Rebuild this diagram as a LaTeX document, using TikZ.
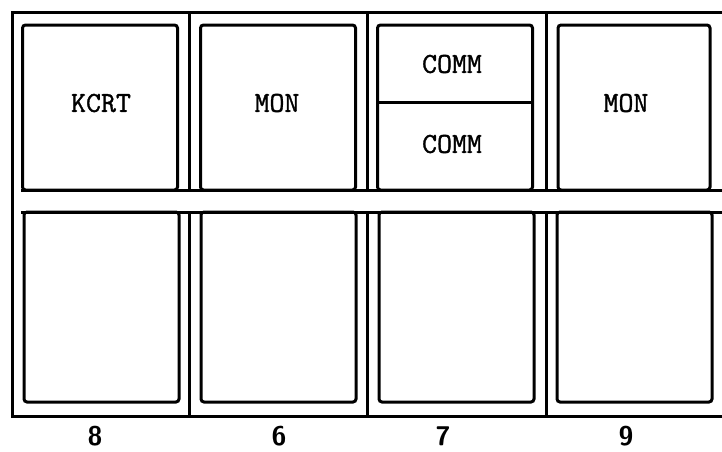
\documentclass[tikz,border=0pt]{standalone}
\usepackage{fontspec}
\newfontfamily\typewriter[FakeBold=1.2]{Latin Modern Mono}
\usepackage{tikz}
\usetikzlibrary{positioning, calc}

\begin{document}
\begin{tikzpicture}[x=1pt, y=-1pt, line width=3pt,
  frame/.style={line cap=rect},
  panel/.style={draw, rounded corners=3pt, minimum width=155pt, inner sep=0pt},
  toppanel/.style={panel, minimum height=165pt},
  lowpanel/.style={panel, minimum height=190pt},
  tag/.style={font=\fontsize{29}{30}\selectfont\typewriter, inner sep=0pt},
  num/.style={font=\fontsize{27}{28}\selectfont\sffamily\bfseries, inner sep=0pt}]
  \useasboundingbox (0,0) rectangle (722,451);

  % outer cabinet frame
  \draw[frame] (722,12) -- (12,12) -- (12,416) -- (722,416);
  \draw[frame] (22,190) -- (722,190);
  \draw[frame] (22,212) -- (722,212);
  \draw[frame] (189,12) -- (189,190) (189,212) -- (189,416);
  \draw[frame] (367,12) -- (367,190) (367,212) -- (367,416);
  \draw[frame] (546,12) -- (546,190) (546,212) -- (546,416);

  % upper row of panels
  \node[toppanel] (p8) at (100,107.5) {};
  \node[toppanel] (p6) at (278,107.5) {};
  \node[toppanel] (p7) at (455,107.5) {};
  \node[toppanel, minimum width=152pt] (p9) at (634,107.5) {};
  \draw (p7.west |- 0,102) -- (p7.east |- 0,102);

  \node[tag] (kcrt) at (101,103) {KCRT};
  \node[tag] (mon6) at (277,103) {MON};
  \node[tag] (comma) at (452,64) {COMM};
  \node[tag] (commb) at (452,144) {COMM};
  \node[tag] (mon9) at (626,103) {MON};

  % lower row of panels
  \node[lowpanel] (q8) at (101.5,307) {};
  \node[lowpanel] (q6) at (278.5,307) {};
  \node[lowpanel] (q7) at (456.5,307) {};
  \node[lowpanel] (q9) at (634.5,307) {};

  % bay numbers
  \node[num] (n8) at (95,436) {8};
  \node[num] (n6) at (279,436) {6};
  \node[num] (n7) at (443,436) {7};
  \node[num] (n9) at (626,436) {9};
\end{tikzpicture}
\end{document}
